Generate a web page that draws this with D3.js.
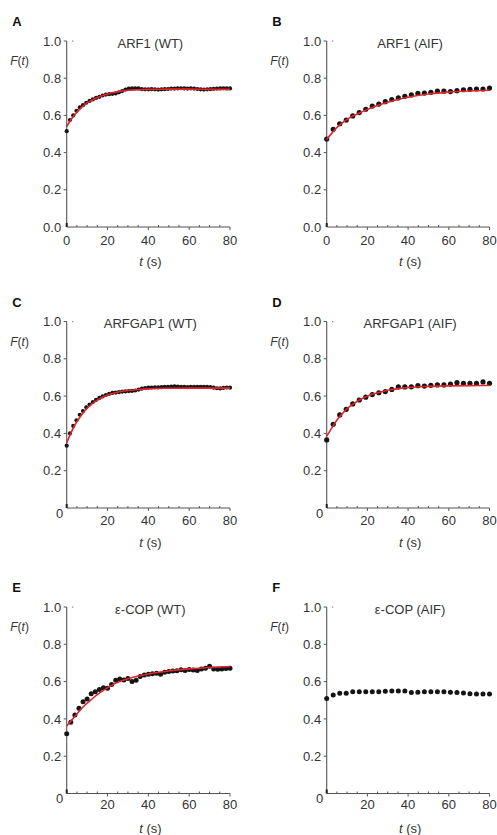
<!DOCTYPE html>
<html>
<head>
<meta charset="utf-8">
<script src="https://cdn.jsdelivr.net/npm/d3@7"></script>
<style>
  body { margin: 0; background: #fff; }
  text { font-family: "Liberation Sans", Arial, sans-serif; fill: #333; }
</style>
</head>
<body>
<div id="container"></div>
<script>
// temps d'acquisition (s)
const tDense = [0,1.6,3.2,4.8,6.4,8,9.6,11.2,12.8,14.4,16,17.6,19.2,20.8,22.4,24,25.6,27.2,28.8,30.4,32,33.6,35.2,36.8,38.4,40,41.6,43.2,44.8,46.4,48,49.6,51.2,52.8,54.4,56,57.6,59.2,60.8,62.4,64,65.6,67.2,68.8,70.4,72,73.6,75.2,76.8,78.4,80];
const tSparse = [0,3.2,6.4,9.6,12.8,16,19.2,22.4,25.6,28.8,32,35.2,38.4,41.6,44.8,48,51.2,54.4,57.6,60.8,64,67.2,70.4,73.6,76.8,80];
const tE = [0,2,4,6,8,10,12,14,16,18,20,22,24,26,28,30,32,34,36,38,40,42,44,46,48,50,52,54,56,58,60,62,64,66,68,70,72,74,76,78,80];

// F(t) mesurés
const arf1WT = [0.515,0.575,0.60,0.625,0.643,0.655,0.668,0.678,0.686,0.694,0.70,0.707,0.712,0.714,0.716,0.718,0.724,0.731,0.739,0.744,0.746,0.746,0.745,0.741,0.740,0.740,0.741,0.740,0.739,0.740,0.741,0.742,0.744,0.744,0.745,0.746,0.745,0.744,0.745,0.744,0.742,0.740,0.739,0.740,0.741,0.743,0.744,0.745,0.746,0.745,0.745];
const arf1AIF = [0.473,0.525,0.555,0.575,0.597,0.615,0.633,0.65,0.661,0.674,0.685,0.694,0.703,0.71,0.719,0.72,0.724,0.73,0.73,0.728,0.733,0.738,0.74,0.742,0.742,0.747];
const gapWT = [0.334,0.40,0.44,0.47,0.50,0.52,0.54,0.555,0.568,0.58,0.59,0.598,0.606,0.612,0.617,0.619,0.621,0.624,0.625,0.627,0.628,0.630,0.635,0.640,0.643,0.645,0.646,0.647,0.647,0.648,0.649,0.650,0.651,0.652,0.651,0.650,0.649,0.648,0.649,0.650,0.649,0.649,0.650,0.649,0.648,0.645,0.642,0.641,0.644,0.646,0.645];
const gapAIF = [0.365,0.449,0.499,0.529,0.558,0.579,0.594,0.608,0.618,0.624,0.636,0.649,0.649,0.65,0.656,0.654,0.658,0.66,0.66,0.665,0.672,0.669,0.669,0.669,0.676,0.669];
const copWT = [0.32,0.382,0.421,0.457,0.492,0.507,0.535,0.546,0.557,0.567,0.564,0.585,0.607,0.614,0.609,0.617,0.600,0.607,0.628,0.636,0.639,0.642,0.645,0.640,0.65,0.654,0.657,0.658,0.664,0.659,0.665,0.662,0.659,0.667,0.671,0.682,0.668,0.666,0.668,0.67,0.671];
const copAIF = [0.51,0.528,0.537,0.537,0.546,0.545,0.545,0.545,0.546,0.548,0.55,0.55,0.55,0.541,0.543,0.545,0.545,0.546,0.545,0.543,0.541,0.539,0.535,0.533,0.533,0.533];

// courbes d'ajustement
const fitT = [0,2,4,6,8,10,12,15,18,22,26,30,35,40,50,60,70,80];
const fitArf1WT = [0.54,0.575,0.605,0.63,0.65,0.667,0.68,0.696,0.708,0.72,0.729,0.735,0.738,0.74,0.741,0.741,0.74,0.74];
const fitArf1AIF = [0.47,0.498,0.523,0.545,0.563,0.578,0.592,0.607,0.623,0.641,0.657,0.671,0.686,0.698,0.715,0.725,0.731,0.735];
const fitGapWT = [0.35,0.40,0.445,0.48,0.51,0.535,0.555,0.578,0.597,0.613,0.623,0.63,0.635,0.639,0.642,0.643,0.643,0.643];
const fitGapAIF = [0.385,0.42,0.455,0.485,0.51,0.532,0.55,0.572,0.59,0.608,0.621,0.631,0.64,0.646,0.652,0.655,0.656,0.657];
const fitCopWT = [0.362,0.388,0.414,0.44,0.464,0.485,0.503,0.53,0.553,0.58,0.6,0.615,0.63,0.641,0.657,0.668,0.676,0.681];

const letters = ["A","B","C","D","E","F"];
const titles = ["ARF1 (WT)","ARF1 (AIF)","ARFGAP1 (WT)","ARFGAP1 (AIF)","ε-COP (WT)","ε-COP (AIF)"];
const xTicks = [0,20,40,60,80];
const yTicks = [0,0.2,0.4,0.6,0.8,1.0];

const panels = [
  {t: tDense, v: arf1WT, fit: fitArf1WT, r: 2.1},
  {t: tSparse, v: arf1AIF, fit: fitArf1AIF, r: 2.6},
  {t: tDense, v: gapWT, fit: fitGapWT, r: 2.1},
  {t: tSparse, v: gapAIF, fit: fitGapAIF, r: 2.6},
  {t: tE, v: copWT, fit: fitCopWT, r: 2.5},
  {t: tSparse, v: copAIF, fit: null, r: 2.5}
];

// mise en page (pixels)
const cols = [[66.7, 230], [326.7, 489.5]];
const rows = [{top: 41, bottom: 227, xl: 18, zeroY: false},
              {top: 321.5, bottom: 508, xl: 17, zeroY: true},
              {top: 607, bottom: 793.5, xl: 15.5, zeroY: true}];

const svg = d3.create("svg")
    .attr("width", 497)
    .attr("height", 835)
    .attr("viewBox", [0, 0, 497, 835]);

svg.append("rect").attr("width", 497).attr("height", 835).attr("fill", "#fff");

panels.forEach((p, i) => {
    const c = cols[i % 2], rw = rows[Math.floor(i / 2)];
    const x = d3.scaleLinear([0, 80], c);
    const y = d3.scaleLinear([0, 1], [rw.bottom, rw.top]);
    const g = svg.append("g");
    const axisCol = "#555";

    // axes
    g.append("line").attr("x1", x(0)).attr("x2", x(0)).attr("y1", y(1)).attr("y2", y(0))
        .attr("stroke", axisCol).attr("stroke-width", 1.1);
    g.append("line").attr("x1", x(0)).attr("x2", x(80)).attr("y1", y(0)).attr("y2", y(0))
        .attr("stroke", axisCol).attr("stroke-width", 1.1);
    g.append("rect").attr("x", x(0) - 1).attr("y", y(0) - 4).attr("width", 2).attr("height", 4).attr("fill", "#222");
    g.append("rect").attr("x", x(0) + 5.5).attr("y", y(1) - 0.5).attr("width", 1).attr("height", 1.2).attr("fill", "#666");

    // y ticks
    yTicks.forEach(v => {
        if (v > 0) {
            g.append("line").attr("x1", x(0) - 3).attr("x2", x(0)).attr("y1", y(v)).attr("y2", y(v))
                .attr("stroke", axisCol);
        }
        const zero = v === 0;
        g.append("text")
            .attr("x", x(0) - (zero && rw.zeroY ? 3.5 : 5.5))
            .attr("y", zero && rw.zeroY ? y(0) + 9.5 : y(v) + 4.6)
            .attr("text-anchor", "end")
            .attr("font-size", 13)
            .text(zero && rw.zeroY ? "0" : d3.format(".1f")(v));
    });

    // x ticks (mineurs toutes les 5 s)
    d3.range(5, 80, 5).forEach(t => {
        if (t % 20 !== 0) {
            g.append("line").attr("x1", x(t)).attr("x2", x(t)).attr("y1", y(0) - 2).attr("y2", y(0))
                .attr("stroke", axisCol);
        }
    });
    xTicks.forEach(t => {
        if (t > 0) {
            g.append("line").attr("x1", x(t)).attr("x2", x(t)).attr("y1", y(0)).attr("y2", y(0) + 3)
                .attr("stroke", axisCol);
        }
        if (t === 0 && rw.zeroY) return;
        g.append("text").attr("x", x(t)).attr("y", y(0) + rw.xl)
            .attr("text-anchor", "middle").attr("font-size", 13).text(t);
    });

    // labels
    g.append("text").attr("x", c[0] - 54.5).attr("y", rw.top - 15)
        .attr("font-size", 13).attr("font-weight", "bold").style("fill", "#111").text(letters[i]);
    g.append("text").attr("x", (c[0] + c[1]) / 2 + 2).attr("y", rw.top + 6.8)
        .attr("text-anchor", "middle").attr("font-size", 13).text(titles[i]);

    const fl = g.append("text").attr("x", c[0] - 56.5).attr("y", rw.top + 24).attr("font-size", 12);
    fl.append("tspan").attr("font-style", "italic").text("F");
    fl.append("tspan").text("(");
    fl.append("tspan").attr("font-style", "italic").text("t");
    fl.append("tspan").text(")");

    const xl = g.append("text").attr("x", (c[0] + c[1]) / 2 + 2).attr("y", rw.bottom + 39)
        .attr("text-anchor", "middle").attr("font-size", 13);
    xl.append("tspan").attr("font-style", "italic").text("t");
    xl.append("tspan").text(" (s)");

    // points
    g.append("g").selectAll("circle")
        .data(p.t.map((t, k) => ({t: t, v: p.v[k]})))
        .join("circle")
        .attr("cx", d => x(d.t))
        .attr("cy", d => y(d.v))
        .attr("r", p.r)
        .attr("fill", "#151515");

    // ajustement
    if (p.fit) {
        const line = d3.line().x(d => x(d[0])).y(d => y(d[1])).curve(d3.curveMonotoneX);
        g.append("path")
            .attr("d", line(fitT.map((t, k) => [t, p.fit[k]])))
            .attr("fill", "none")
            .attr("stroke", "#e3242b")
            .attr("stroke-width", 1.6);
    }
});

d3.select("#container").node().append(svg.node());
</script>
</body>
</html>
